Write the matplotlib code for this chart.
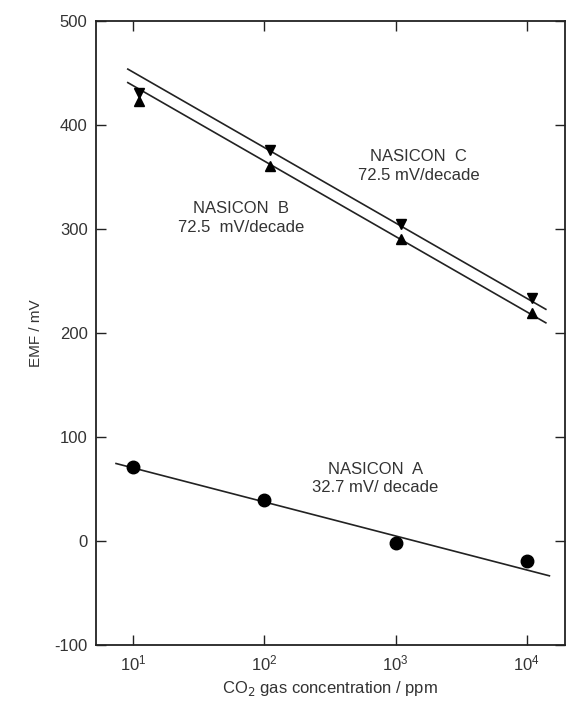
import matplotlib
matplotlib.use("Agg")
import matplotlib.pyplot as plt
import numpy as np

plt.rcParams['font.family'] = ['Liberation Sans', 'DejaVu Sans']
plt.rcParams['axes.unicode_minus'] = False

# Data
conc_A = [10, 100, 1000, 10000]
emf_A = [71, 39, -2, -19]
conc_BC = [11, 110, 1100, 11000]
emf_B = [423, 361, 291, 219]
emf_C = [431, 376, 305, 234]

slope_A, icpt_A = -32.7, 103.0
slope_B, icpt_B = -72.5, 510.5
slope_C, icpt_C = -72.5, 523.5
fit_A_range = [7.4, 14900]
fit_BC_range = [9.1, 14000]

label_A = "NASICON  A\n32.7 mV/ decade"
label_B = "NASICON  B\n72.5  mV/decade"
label_C = "NASICON  C\n72.5 mV/decade"

fig = plt.figure(figsize=(5.71, 7.08), dpi=100)
ax = fig.add_axes([0.168, 0.089, 0.821, 0.881])
ax.set_xscale('log')

ink = '#222222'

def fit(xr, s, b):
    x = np.array(xr, dtype=float)
    return x, b + s * np.log10(x)

x, y = fit(fit_A_range, slope_A, icpt_A)
ax.plot(x, y, color=ink, lw=1.2)
x, y = fit(fit_BC_range, slope_B, icpt_B)
ax.plot(x, y, color=ink, lw=1.2)
x, y = fit(fit_BC_range, slope_C, icpt_C)
ax.plot(x, y, color=ink, lw=1.2)

ax.plot(conc_A, emf_A, 'o', color='black', ms=9, ls='none')
ax.plot(conc_BC, emf_B, '^', color='black', ms=6.5, ls='none')
ax.plot(conc_BC, emf_C, 'v', color='black', ms=6.5, ls='none')

tkw = dict(ha='center', va='center', fontsize=12, color='#333333', linespacing=1.3)
ax.text(700, 60, label_A, **tkw)
ax.text(66, 311, label_B, **tkw)
ax.text(1500, 361, label_C, **tkw)

ax.set_xlim(5.2, 19500)
ax.set_ylim(-100, 500)
ax.set_xticks([10, 100, 1000, 10000])
ax.xaxis.set_minor_locator(matplotlib.ticker.NullLocator())
ax.set_yticks([-100, 0, 100, 200, 300, 400, 500])
ax.tick_params(direction='in', top=True, right=True, length=7, width=1, labelsize=12, colors=ink, labelcolor='#333333', pad=6)
for s in ax.spines.values():
    s.set_linewidth(1.3)
    s.set_color(ink)

ax.set_ylabel('EMF / mV', fontsize=11, color='#333333', labelpad=8)
ax.set_xlabel('CO$_2$ gas concentration / ppm', fontsize=12, color='#333333', labelpad=4)

fig.savefig('out.png', dpi=100)
